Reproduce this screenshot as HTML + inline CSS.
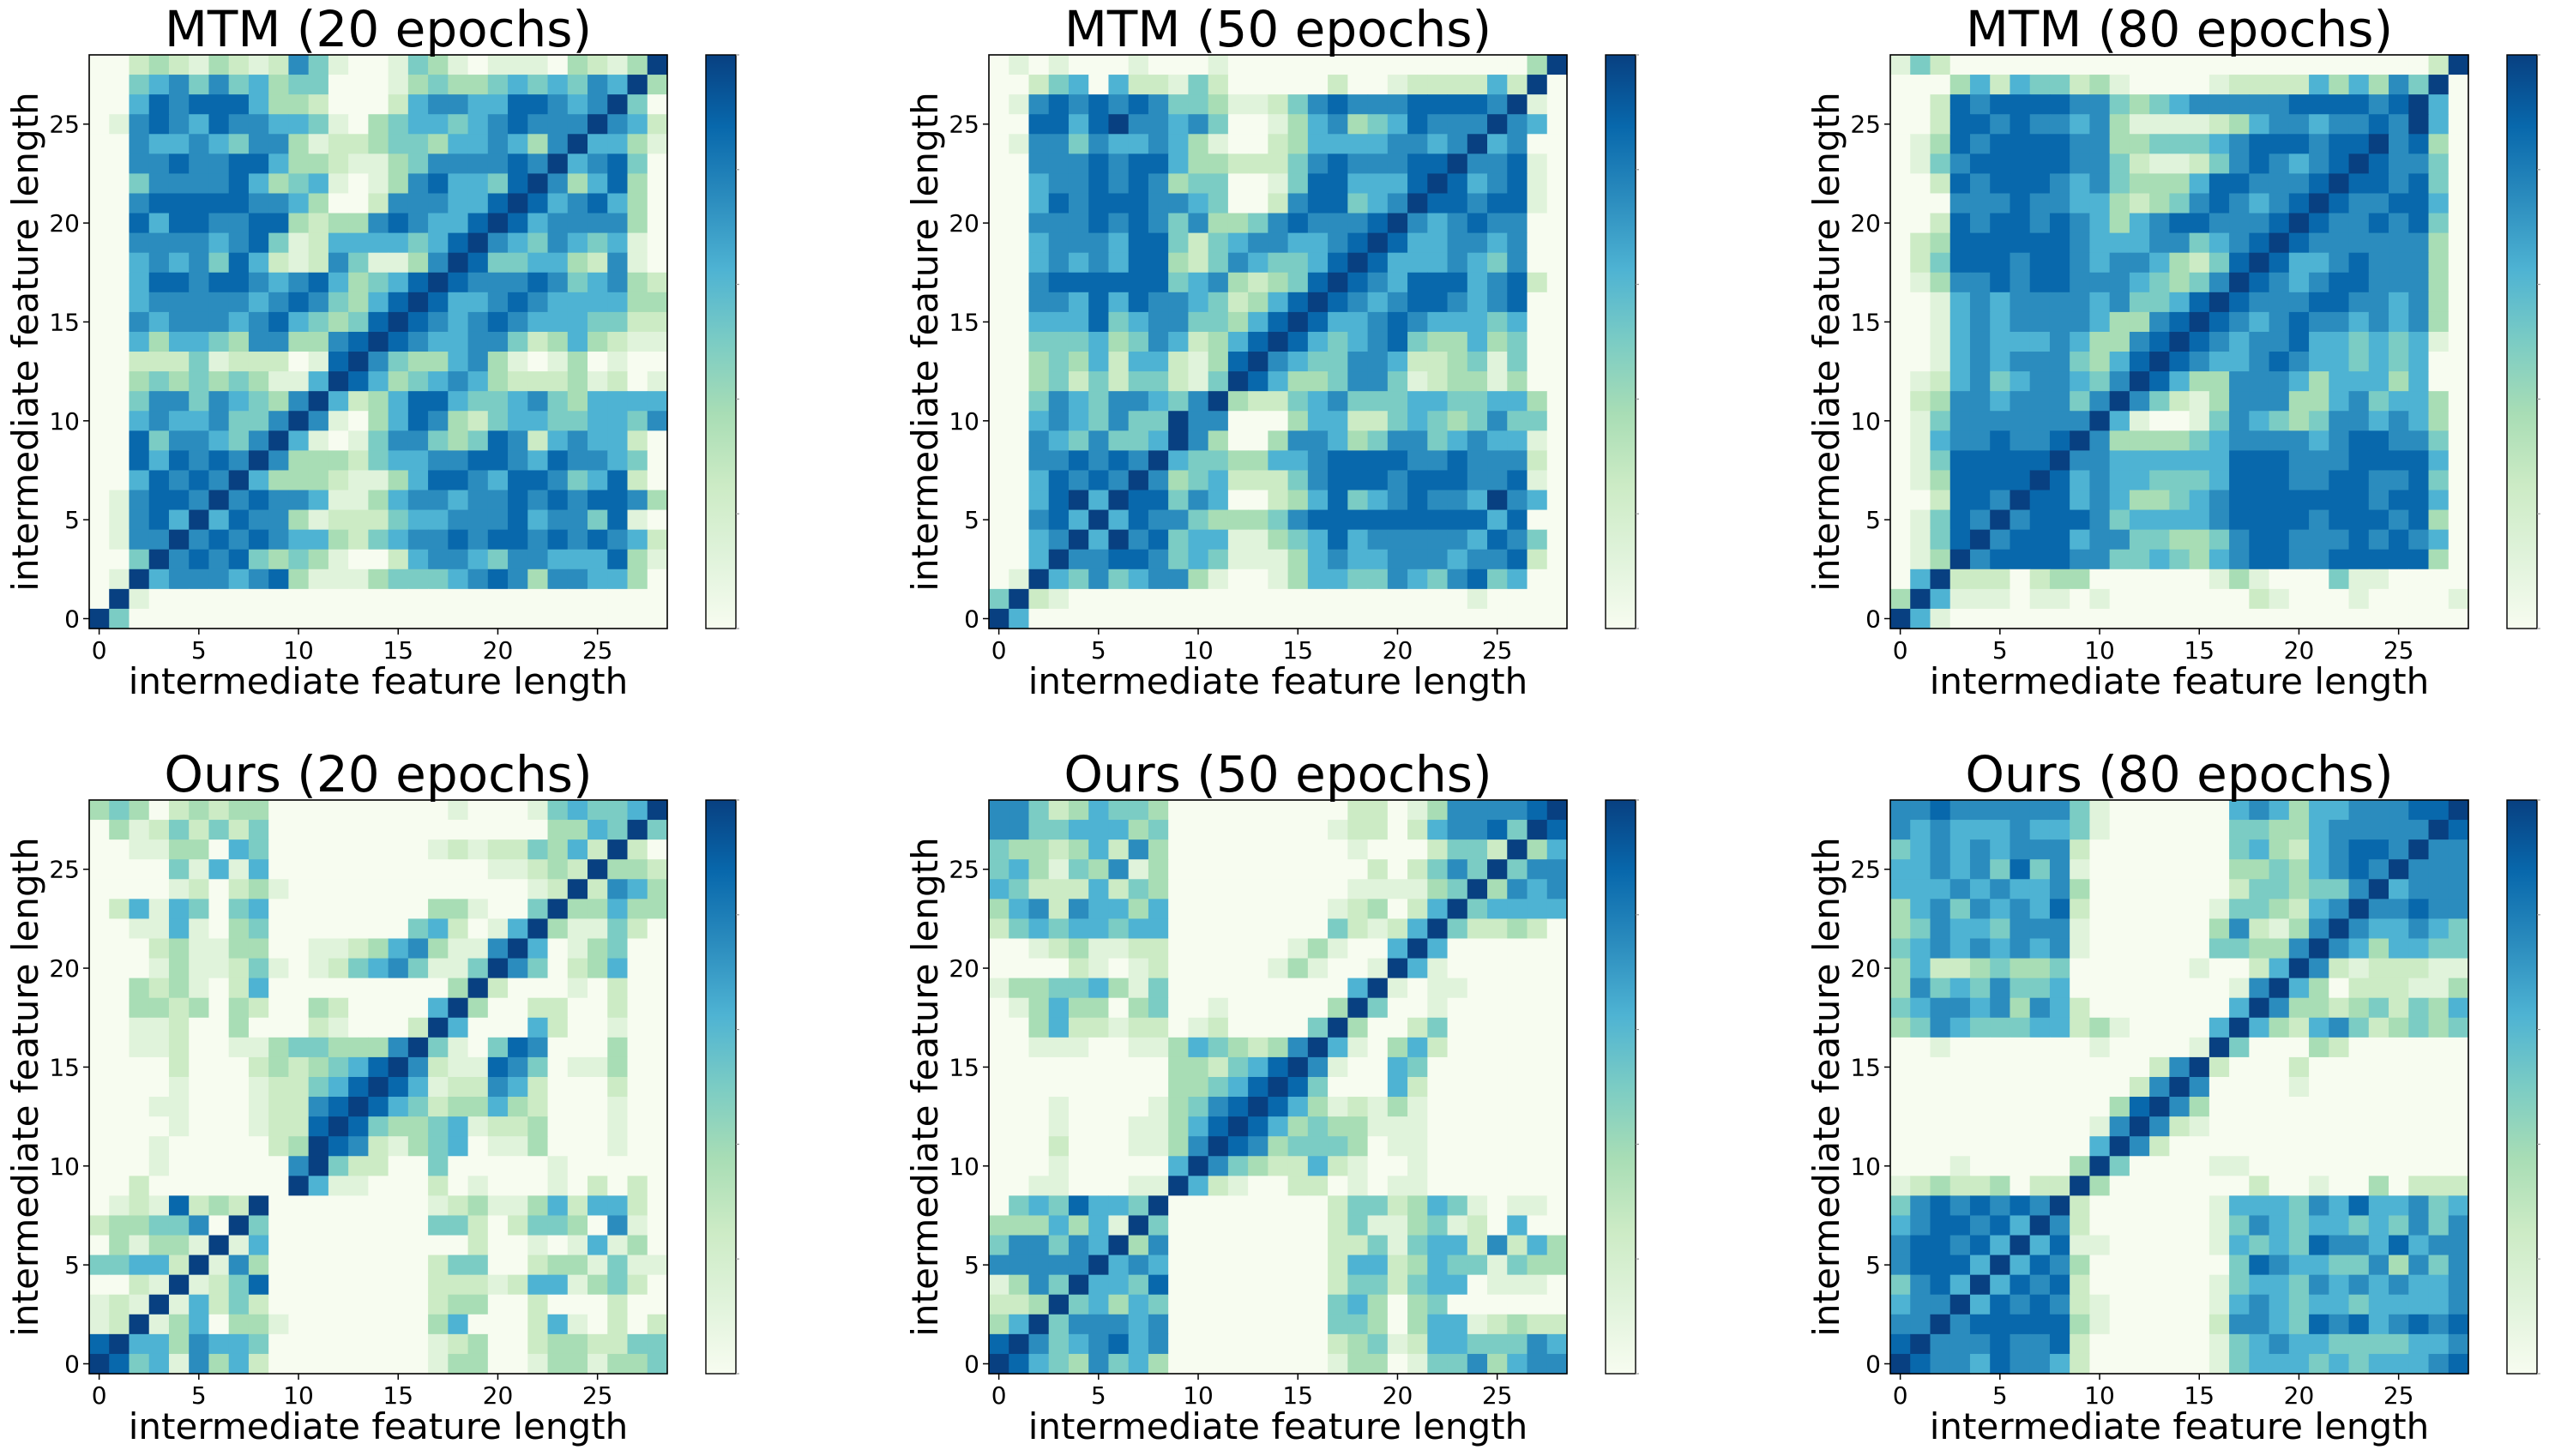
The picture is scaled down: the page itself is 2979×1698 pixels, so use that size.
<!DOCTYPE html>
<html><head><meta charset="utf-8"><title>Heatmaps</title>
<style>html,body{margin:0;padding:0;background:#fff;}svg{display:block;}text{font-family:"DejaVu Sans","Liberation Sans",sans-serif;fill:#000;}</style>
</head><body>
<svg id="fig" width="2979" height="1698" xmlns="http://www.w3.org/2000/svg"></svg>
<script>
// Values: digit 0-8 per cell, rows listed from top (y=28) to bottom (y=0)
const mtm20 = [
"00232132126410014310111032138","00456464534400013433454546583","00576777533200025665577656840","01676576655410345545676668652",
"00655654663122344355653685531","00667667753321134666676856740","00466667534510136755478635730","00677777665300266655787567530",
"00757766773233676557875666630","00666656741255554578654654510","00565647521264113687445532610","00577677656753457876667645632",
"00566666567643578755676555533","00656665675434787656765554422","00535543663367876556642353211","00222412220178643356310130100",
"00343434311587534565322231201","00466465436852357754456435555","00565564468610357632455445546","00746654685101466434762565520",
"00757676863332455667765766540","00576768533321135776577645720","01677686766511356656676767763","01675857663122245566675664710",
"01668676765532456676776767652","00486767434310025665466555731","01856665673111344456763665530","08100000000000000000000000000",
"84000000000000000000000000000"];
const mtm50 = [
"01010001000100000000000000038","00245052214200000200122225280","01676767644311246766677776810","00775786656400135634576668650",
"01664655653100235555665685600","00666767753322246766677866710","00566767634400147755578756710","00576777665400267745687767710",
"00666767646334676667865676600","00566657742456655678755665600","00565657732465445787555654600","00677777745632347876577756720",
"00665757665423578765677656700","00555745664435787556765554500","00444534652357875456743353400","00343525521378654466522341400",
"00342424421487533466412331300","00465466546832245644455445530","00565464486600035522454346440","00654644586300366534664565510",
"00667676854433556777766766620","00576768634522246777677766710","00578587746500235745676658650","00675857664333467777777775700",
"00568586745511345756666657640","00586677645411135655666566720","01854645663100135544654674500","48210000000000000000000010000",
"85000000000000000000000000000"];
const mtm80 = [
"14200000000000000000000000028","00035254423100001222253536480","00276777766434566666777767850","00277676656311112356656676850",
"01376777766334445677767786730","01467777766421124676567876640","00276777656433357766678776740","00066676655323467656787667750",
"00276776765356776667876676740","02377777765556645678766666630","02477767765665324787556766630","01366767766654346876567766630",
"00156566665644578766677665630","00156566665336787656766565630","00156555653367876566755454510","00156566643578765567655454500",
"01256456654687533666535553500","02366566646864213666335645530","01466666668510014654346656530","01566766786333345666656776640",
"01477777866555555777666777750","01377778756554445777667766740","00277687756533456777777767750","01476867776455556777767776730",
"01478677756644334677666767650","01386777766445435677667777730","05822202330000001310004110000","38511101101000000021000100001",
"85100000000000000000000000000"];
const ours20 = [
"34302323300000000010001454458","03124242400000000000000335484","00113305400000000121224352820","00004151500000000000112328332",
"00001202310000000000001282653","02515404500000000331004833533","00115103400000004520158311420","00023113300112356311685013400",
"00013112410124564114864023500","00323102500000000038200010200","00332303200320000583002200200","00112003000210002850005200100",
"00112001134433368410476000300","00002000232345786211764011300","00001000122457875122652000200","00011000122678754233532000100",
"00001000122787433451223000100","00010000023876213450113000100","00010000006842200400000100000","00200000008511000201000102020",
"01217232800000000123113525520","23344608400000000442024430610","03133181500000000002001015130","44552816300000000244002331411",
"00218124700000000222125513420","12181524200000000233002000200","12813503310000000350002510202","78553655400000000123002332244",
"87451635200000000133001331334"];
const ours50 = [
"66423544300000000022013666678","66445553400000000122025667487","43323526300000000010002442835","45314361300000000002024648466",
"54222524300000000011113483656","35626553500000000123025845555","24545545500000000421258422320","00123112200000013100585000000",
"00002101200000131001851000000","13344531400000000058101100000","01353303400100000384001000000","00352212201200004830024000000",
"00111001135432368510352000000","00000000033245786100540000000","00000000033457874000520000000","00010000134678753121310000000",
"00010001135787534331110000000","00020001136876344430110000000","00010000058643225210010000000","00110001185210022010110000000",
"04547554800000000244235410110","33353518400000000241134120500","46646583600000000224145526253","66666856500000000255235441433",
"13648554700000000244245501110","22384535400000000453034000000","35846665600000000443035512322","78645675600000000234125544465",
"87543645300000000133014463566"];
const ours80 = [
"66766666641000000565355666778","65655565541000000443356666687","45656566620000000453256776866","55656474610000000334356768666",
"55565655630000000244344685666","35646565720000001443256866766","34655466610000003621368655654","45656565610000004433686535544",
"35223433400000010025862122211","36454644500000000168530222113","45665636520000000586332342435","34654445523100005853256423434",
"00100000001000018400032000000","00000000000002682000200000000","00000000000026860000100000000","00000000000378630000000000000",
"00000000001686210000000000000","00000000005862000000000000000","00010000038400001100000000000","12322302283000000020010030222",
"46767676820000001555465755645","56776758620000001465455454646","67767585711000001545476657566","67775857630000000476554463646",
"46758576720000001455465656556","56685767621000001565455455556","66867777731000002665476756767","78666766720000001456554444556",
"87665766520000001455545455567"];
const matrices = [mtm20, mtm50, mtm80, ours20, ours50, ours80];
const titles = ["MTM (20 epochs)","MTM (50 epochs)","MTM (80 epochs)","Ours (20 epochs)","Ours (50 epochs)","Ours (80 epochs)"];
const tickLabels = ["0","5","10","15","20","25"];
const tickValues = [0,5,10,15,20,25];
const panelNames = ["mtm-20","mtm-50","mtm-80","ours-20","ours-50","ours-80"];

const NS = "http://www.w3.org/2000/svg";
const svg = document.getElementById("fig");
const lefts = [104, 1153, 2204];
const tops = [64, 933];
const W = 674, H = 669, N = 29;
const GNBU = ["#f7fcf0","#e0f3db","#ccebc5","#a8ddb5","#7bccc4","#4eb3d3","#2b8cbe","#0868ac","#084081"];
function mk(tag, attrs, parent){const e=document.createElementNS(NS,tag);for(const k in attrs)e.setAttribute(k,attrs[k]);(parent||svg).appendChild(e);return e;}
function color(v){return GNBU[Math.max(0,Math.min(8,Math.round(v)))];}

for(let p=0;p<6;p++){
  const L = lefts[p%3], T = tops[Math.floor(p/3)];
  const cw = W/N, ch = H/N;
  const xScale = i => L + (i+0.5)*cw;
  const yScale = j => T + H - (j+0.5)*ch;
  const g = mk("g",{});
  
  
  const data = matrices[p];
  for(let r=0;r<N;r++){
    const yv = N-1-r;
    for(let c=0;c<N;c++){
      const v = +(data[r][c] || 0);
      const rect = mk("rect",{x:(xScale(c)-cw/2).toFixed(2),y:(yScale(yv)-ch/2).toFixed(2),width:(cw+0.6).toFixed(2),height:(ch+0.6).toFixed(2),fill:color(v)},g);
      
      
    }
  }
  const frame = mk("rect",{x:L,y:T,width:W,height:H,fill:"none",stroke:"#000","stroke-width":1.6},g);
  
  
  for(let k=0;k<tickValues.length;k++){
    const xv = xScale(tickValues[k]);
    mk("line",{x1:xv,y1:T+H,x2:xv,y2:T+H+7,stroke:"#000","stroke-width":1.5},g);
    const tx = mk("text",{x:xv,y:T+H+35,"text-anchor":"middle","font-size":28},g);
    tx.textContent = tickLabels[k];
    
    
    const yv = yScale(tickValues[k]);
    mk("line",{x1:L-7,y1:yv,x2:L,y2:yv,stroke:"#000","stroke-width":1.5},g);
    const ty = mk("text",{x:L-11,y:yv+10,"text-anchor":"end","font-size":28},g);
    ty.textContent = tickLabels[k];
    
    
  }
  const title = mk("text",{x:L+W/2,y:T-10,"text-anchor":"middle","font-size":58},g);
  title.textContent = titles[p];
  
  
  const xl = mk("text",{x:L+W/2,y:T+H+76,"text-anchor":"middle","font-size":42},g);
  xl.textContent = "intermediate feature length";
  
  
  const cy = T+H/2;
  const yl = mk("text",{x:L-60,y:cy,"text-anchor":"middle","font-size":42,transform:"rotate(-90 "+(L-60)+" "+cy+")"},g);
  yl.textContent = "intermediate feature length";
  
  
  // colorbar
  const CX = L+719, CW = 35;
  const gid = "cb"+p;
  const defs = mk("defs",{},g);
  const lg = mk("linearGradient",{id:gid,x1:0,y1:1,x2:0,y2:0},defs);
  GNBU.forEach((c,i)=>mk("stop",{offset:(i/8).toFixed(3),"stop-color":c},lg));
  const cb = mk("rect",{x:CX,y:T,width:CW,height:H,fill:"url(#"+gid+")",stroke:"#000","stroke-width":1.4},g);
  
  
  for(let k=0;k<=5;k++){
    const yy = T+H - k*H/5;
    mk("line",{x1:CX+CW,y1:yy,x2:CX+CW+4,y2:yy,stroke:"#999","stroke-width":1.2},g);
  }
}
</script>
</body></html>
